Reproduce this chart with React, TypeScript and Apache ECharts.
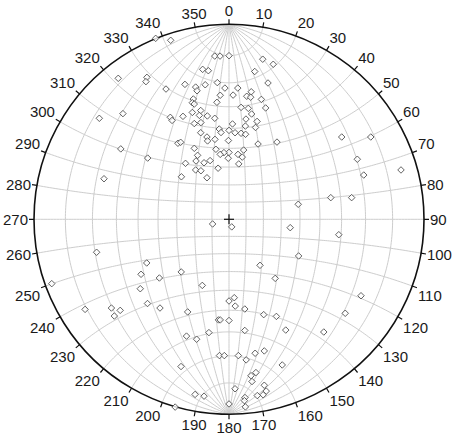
import { useEffect, useRef } from "react";
import * as echarts from "echarts";

// Net geometry (pixel layout of the primitive circle)
const CX = 229;
const CY = 219.3;
const R = 195;

// Azimuth ticks every 10 degrees, 0..350
const azimuthInterval = 10;

// Stereonet (Wulff) grid: great circles dips and small circle cone angles
const greatCircleDips = [10, 20, 30, 40, 50, 60, 70, 80, 90];
const smallCircleAngles = [10, 20, 30, 40, 50, 60, 70, 80, 90, 100, 110, 120, 130, 140, 150, 160, 170];

// Plotted poles, net coordinates [east, north] (primitive radius = 1)
const northCluster: [number, number][] = [
  [-0.073, 0.837], [-0.046, 0.837], [0.0, 0.839], [0.173, 0.821], [0.227, 0.795],
  [-0.135, 0.769], [-0.106, 0.762], [0.132, 0.758], [0.2, 0.699], [-0.323, 0.668],
  [-0.226, 0.692], [-0.171, 0.678], [-0.164, 0.659], [-0.122, 0.69], [-0.06, 0.701],
  [-0.021, 0.673], [0.045, 0.673], [0.114, 0.654], [0.091, 0.631], [0.111, 0.626],
  [-0.045, 0.636], [0.021, 0.637], [-0.183, 0.617], [-0.188, 0.598], [-0.178, 0.591],
  [-0.062, 0.6], [0.166, 0.615], [0.062, 0.574], [0.099, 0.569], [0.188, 0.571],
  [-0.301, 0.523], [-0.292, 0.507], [-0.236, 0.528], [-0.188, 0.548], [-0.145, 0.558],
  [-0.152, 0.533], [-0.111, 0.53], [-0.073, 0.518], [0.087, 0.514], [0.116, 0.54],
  [0.144, 0.502], [0.018, 0.489], [-0.178, 0.491], [-0.144, 0.496], [0.084, 0.478],
  [0.136, 0.471], [-0.05, 0.463], [-0.041, 0.445], [0.0, 0.456], [0.031, 0.444],
  [0.062, 0.441], [0.085, 0.436], [-0.145, 0.444], [-0.113, 0.422], [-0.11, 0.402],
  [-0.072, 0.41], [-0.003, 0.404], [0.149, 0.386], [-0.262, 0.39], [-0.248, 0.395],
  [-0.178, 0.364], [-0.067, 0.359], [0.0, 0.343], [-0.026, 0.342], [-0.045, 0.333],
  [0.075, 0.355], [0.046, 0.333], [0.068, 0.319], [-0.161, 0.328], [-0.004, 0.313],
  [-0.223, 0.287], [-0.169, 0.299], [-0.128, 0.29], [-0.097, 0.301], [0.05, 0.284],
  [-0.056, 0.262], [-0.171, 0.253], [-0.144, 0.249], [-0.244, 0.218], [-0.113, 0.213],
  [0.246, 0.396],
];

const northWestScatter: [number, number][] = [
  [-0.376, 0.928], [-0.299, 0.918], [-0.568, 0.723], [-0.421, 0.728], [-0.426, 0.706],
  [-0.665, 0.518], [-0.544, 0.542], [-0.555, 0.361], [-0.417, 0.314], [-0.641, 0.208],
];

const eastScatter: [number, number][] = [
  [0.578, 0.422], [0.727, 0.422], [0.658, 0.308], [0.691, 0.227], [0.882, 0.253],
  [0.355, 0.077], [0.522, 0.111], [0.629, 0.111],
  [-0.084, -0.024], [0.014, -0.039], [0.314, -0.043], [0.563, -0.079], [0.357, -0.188],
  [0.159, -0.236], [0.237, -0.303], [0.677, -0.392], [0.596, -0.482], [0.486, -0.578],
];

const southWestScatter: [number, number][] = [
  [-0.679, -0.169], [-0.909, -0.33], [-0.422, -0.224], [-0.451, -0.282], [-0.357, -0.301],
  [-0.245, -0.27], [-0.455, -0.356], [-0.137, -0.339], [-0.738, -0.462], [-0.603, -0.455],
  [-0.558, -0.467], [-0.588, -0.496], [-0.418, -0.432], [-0.354, -0.455], [-0.212, -0.475],
];

const southCluster: [number, number][] = [
  [0.0, -0.419], [0.027, -0.402], [0.032, -0.445], [0.081, -0.46], [0.178, -0.489],
  [0.243, -0.498], [-0.054, -0.516], [-0.045, -0.516], [0.0, -0.519], [-0.103, -0.581],
  [0.081, -0.57], [0.291, -0.568], [-0.218, -0.599], [-0.166, -0.615], [-0.049, -0.699],
  [-0.024, -0.699], [0.048, -0.699], [0.088, -0.721], [0.134, -0.687], [0.181, -0.675],
  [0.273, -0.747], [-0.246, -0.755], [0.113, -0.802], [0.138, -0.786], [0.118, -0.832],
  [0.181, -0.851], [0.191, -0.881], [0.175, -0.9], [0.145, -0.904], [0.031, -0.869],
  [-0.174, -0.898], [-0.128, -0.907], [0.082, -0.914], [0.079, -0.93], [0.084, -0.962],
  [0.0, -0.947], [-0.276, -0.963],
];

const allPoles = [
  ...northCluster,
  ...northWestScatter,
  ...eastScatter,
  ...southWestScatter,
  ...southCluster,
];

const LABEL_FONT = '"Liberation Sans", Arial, sans-serif';

function proj(x: number, y: number, z: number): [number, number] {
  const k = 1 / (1 + z);
  return [x * k, y * k];
}

function renderNet(params: any, api: any) {
  const deg = Math.PI / 180;
  const children: any[] = [];
  const lineStyle = { stroke: "#cdcdcd", lineWidth: 1, fill: null };
  const toPx = (p: [number, number]) => api.coord(p);

  // great circles (N-S strike), both dip directions
  greatCircleDips.forEach((d) => {
    const sides = d === 90 ? [1] : [1, -1];
    sides.forEach((s) => {
      const pts: number[][] = [];
      for (let t = 0; t <= 180; t += 1) {
        const tr = t * deg;
        const dr = d * deg;
        const x = s * Math.sin(tr) * Math.cos(dr);
        const y = Math.cos(tr);
        const z = Math.sin(tr) * Math.sin(dr);
        pts.push(toPx(proj(x, y, z)));
      }
      children.push({ type: "polyline", shape: { points: pts }, style: lineStyle, silent: true });
    });
  });

  // small circles around N-S axis
  smallCircleAngles.forEach((a) => {
    const pts: number[][] = [];
    const ar = a * deg;
    for (let t = 0; t <= 180; t += 1) {
      const tr = t * deg;
      const x = Math.sin(ar) * Math.cos(tr);
      const y = Math.cos(ar);
      const z = Math.sin(ar) * Math.sin(tr);
      pts.push(toPx(proj(x, y, z)));
    }
    children.push({ type: "polyline", shape: { points: pts }, style: lineStyle, silent: true });
  });

  // centre cross
  const c = api.coord([0, 0]);
  children.push({
    type: "line",
    shape: { x1: c[0] - 5, y1: c[1], x2: c[0] + 5, y2: c[1] },
    style: { stroke: "#111", lineWidth: 1.2 },
    z2: 10,
  });
  children.push({
    type: "line",
    shape: { x1: c[0], y1: c[1] - 5, x2: c[0], y2: c[1] + 5 },
    style: { stroke: "#111", lineWidth: 1.2 },
    z2: 10,
  });

  return { type: "group", children };
}

export default function App() {
  const ref = useRef<HTMLDivElement>(null);

  useEffect(() => {
    if (!ref.current) return;
    const chart = echarts.init(ref.current, undefined, { renderer: "svg" });
    chart.setOption({
      animation: false,
      backgroundColor: "#ffffff",
      grid: { left: CX - R, top: CY - R, width: 2 * R, height: 2 * R, containLabel: false },
      xAxis: { type: "value", min: -1, max: 1, show: false },
      yAxis: { type: "value", min: -1, max: 1, show: false },
      polar: { center: [CX, CY], radius: R },
      angleAxis: {
        type: "value",
        min: 0,
        max: 360,
        interval: azimuthInterval,
        startAngle: 90,
        clockwise: true,
        z: 4,
        axisLine: { show: true, lineStyle: { color: "#111", width: 1.6 } },
        axisTick: { show: true, inside: false, length: 5, lineStyle: { color: "#111", width: 1.2 } },
        axisLabel: {
          show: true,
          margin: 6,
          fontSize: 15,
          color: "#1a1a1a",
          fontFamily: LABEL_FONT,
          formatter: (v: number) => (v >= 360 ? "" : String(v)),
        },
        splitLine: { show: false },
      },
      radiusAxis: {
        type: "value",
        min: 0,
        max: 1,
        show: false,
        axisLine: { show: false },
        axisTick: { show: false },
        axisLabel: { show: false },
        splitLine: { show: false },
      },
      series: [
        {
          type: "custom",
          coordinateSystem: "cartesian2d",
          data: [[0, 0]],
          renderItem: renderNet,
          silent: true,
          z: 1,
          clip: false,
        },
        {
          type: "scatter",
          coordinateSystem: "cartesian2d",
          data: allPoles,
          symbol: "diamond",
          symbolSize: 6.5,
          itemStyle: { color: "#ffffff", borderColor: "#3c3c3c", borderWidth: 1 },
          z: 5,
        },
      ],
    });
    return () => chart.dispose();
  }, []);

  return (
    <div
      ref={ref}
      style={{ position: "fixed", left: 0, top: 0, width: 454, height: 442, background: "#fff" }}
    />
  );
}
